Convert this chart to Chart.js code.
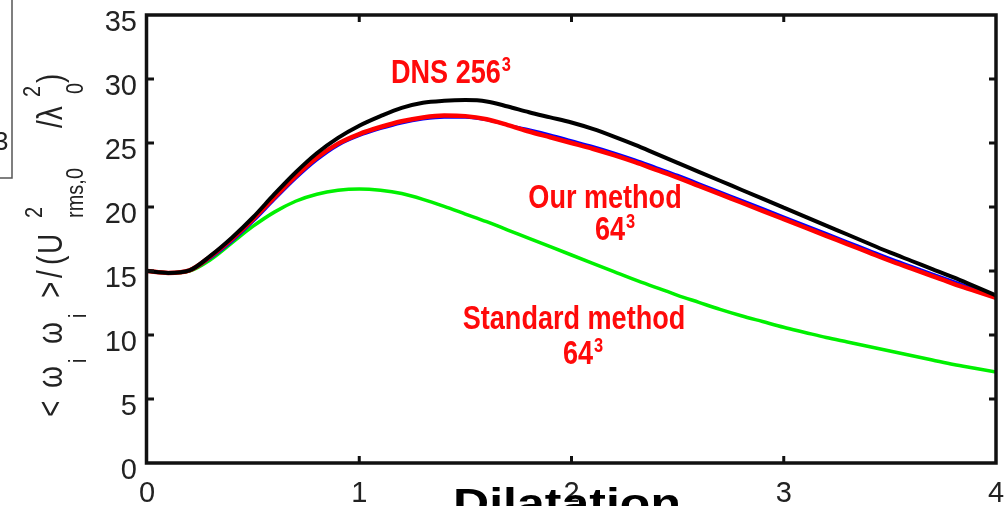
<!DOCTYPE html>
<html><head><meta charset="utf-8">
<script src="https://cdn.jsdelivr.net/npm/chart.js@4"></script>
<style>html,body{margin:0;padding:0;background:#fff;overflow:hidden}canvas{display:block}</style>
</head><body>
<canvas id="c" width="1005" height="506"></canvas>
<script>
// ---- data ----
const xValues = [0,0.1,0.2,0.3,0.4,0.5,0.6,0.7,0.8,0.9,1.0,
  1.1,1.2,1.3,1.4,1.5,1.6,1.7,1.8,1.9,2.0,
  2.1,2.2,2.3,2.4,2.5,2.6,2.7,2.8,2.9,3.0,
  3.1,3.2,3.3,3.4,3.5,3.6,3.7,3.8,3.9,4.0];
const dns256 = [15.0,14.85,15.05,16.2,17.6,19.2,21.0,22.7,24.2,25.4,26.35,
  27.1,27.75,28.15,28.3,28.35,28.25,27.85,27.4,27.0,26.6,
  26.1,25.5,24.85,24.15,23.45,22.75,22.05,21.35,20.65,19.95,
  19.25,18.55,17.85,17.15,16.45,15.8,15.15,14.5,13.8,13.1];
const ourMethod64 = [15.0,14.85,15.05,16.15,17.5,19.05,20.75,22.4,23.85,24.95,25.7,
  26.25,26.7,27.0,27.15,27.1,26.85,26.4,25.9,25.45,25.0,
  24.55,24.05,23.5,22.9,22.3,21.65,21.0,20.35,19.7,19.05,
  18.4,17.75,17.1,16.45,15.8,15.2,14.6,14.0,13.45,12.9];
const ourMethod64b = [15.0,14.85,15.0,16.0,17.3,18.85,20.55,22.2,23.65,24.8,25.55,
  26.1,26.55,26.85,27.0,27.0,26.8,26.4,26.05,25.65,25.2,
  24.75,24.25,23.7,23.1,22.5,21.85,21.2,20.55,19.9,19.25,
  18.6,17.95,17.3,16.65,16.0,15.4,14.8,14.2,13.6,13.0];
const standard64 = [15.0,14.85,15.0,15.9,17.2,18.5,19.6,20.45,21.0,21.3,21.4,
  21.3,21.05,20.6,20.05,19.45,18.85,18.2,17.55,16.9,16.25,
  15.6,14.95,14.3,13.7,13.1,12.55,12.0,11.5,11.05,10.6,
  10.2,9.8,9.45,9.1,8.75,8.4,8.05,7.7,7.4,7.1];
const xTicks = [0,1,2,3,4];
const yTicks = [0,5,10,15,20,25,30,35];
const xTitle = 'Dilatation';

function pts(arr){ return xValues.map((x,i)=>({x:x, y:arr[i]})); }

function hasFont(name){
  const c=document.createElement('canvas').getContext('2d');
  c.font='40px monospace'; const a=c.measureText('mmmwwwiiilllABC').width;
  c.font='40px "'+name+'", monospace'; const b=c.measureText('mmmwwwiiilllABC').width;
  return a!==b;
}
const narrowOK = hasFont('Liberation Sans Narrow');
const redFam = narrowOK ? '"Liberation Sans Narrow"' : '"Liberation Sans"';
const redScale = narrowOK ? 1 : 0.82;

function drawSupLabel(ctx, main, sup, cx, baseY, size){
  ctx.save();
  ctx.fillStyle = '#ff0a0a';
  ctx.font = 'bold '+size+'px '+redFam;
  const w1 = ctx.measureText(main).width*redScale;
  let w2 = 0;
  const supSize = Math.round(size*0.62);
  if (sup){ ctx.font = 'bold '+supSize+'px '+redFam; w2 = ctx.measureText(sup).width*redScale + 1; }
  const left = cx - (w1+w2)/2;
  ctx.textBaseline = 'alphabetic'; ctx.textAlign = 'left';
  ctx.save(); ctx.translate(left, baseY); ctx.scale(redScale,1);
  ctx.font = 'bold '+size+'px '+redFam; ctx.fillText(main,0,0); ctx.restore();
  if (sup){
    ctx.save(); ctx.translate(left+w1+1, baseY - size*0.36); ctx.scale(redScale,1);
    ctx.font = 'bold '+supSize+'px '+redFam; ctx.fillText(sup,0,0); ctx.restore();
  }
  ctx.restore();
}

function zeroPad(s){ s.paddingTop=0; s.paddingBottom=0; s.paddingLeft=0; s.paddingRight=0; }

const framePlugin = {
  id:'frame',
  afterDatasetsDraw(chart){
    const ctx = chart.ctx, a = chart.chartArea;
    const xs = chart.scales.x, ys = chart.scales.y;
    ctx.save();
    ctx.strokeStyle = '#111'; ctx.lineWidth = 3.5;
    ctx.strokeRect(a.left-0.5, a.top, a.right-a.left+0.5, a.bottom-a.top);
    ctx.lineWidth = 3;
    const tl = 7;
    yTicks.forEach(v=>{
      if (v===0||v===35) return;
      const y = ys.getPixelForValue(v);
      ctx.beginPath(); ctx.moveTo(a.left, y); ctx.lineTo(a.left+tl, y);
      ctx.moveTo(a.right, y); ctx.lineTo(a.right-tl, y); ctx.stroke();
    });
    xTicks.forEach(v=>{
      if (v===0||v===4) return;
      const x = xs.getPixelForValue(v);
      ctx.beginPath(); ctx.moveTo(x, a.bottom); ctx.lineTo(x, a.bottom-tl);
      ctx.moveTo(x, a.top); ctx.lineTo(x, a.top+tl); ctx.stroke();
    });
    ctx.restore();
  },
  afterDraw(chart){
    const ctx = chart.ctx;
    // red annotations
    drawSupLabel(ctx, 'DNS 256', '3', 451, 83, 33);
    drawSupLabel(ctx, 'Our method', '', 605, 208, 33);
    drawSupLabel(ctx, '64', '3', 615, 240, 33);
    drawSupLabel(ctx, 'Standard method', '', 574, 329, 33);
    drawSupLabel(ctx, '64', '3', 583, 364, 33);

    // rotated y-axis title (MATLAB tex style)
    const pieces = [
      ['<',417,62,28],['\u03c9',388,62,28],['i',363,86,20],['\u03c9',344,62,28],['i',318,86,20],
      ['>',298,62,28],['/',278,62,28],['(',265,62,28],['U',254,62,28],['2',218,42,20],
      ['rms,0',218,83,20],['/\u03bb',128,62,28],['2',97,40,20],['0',94,83,20],[')',83,62,28]
    ];
    ctx.save();
    ctx.fillStyle = '#222'; ctx.textAlign='left'; ctx.textBaseline='alphabetic';
    pieces.forEach(p=>{
      ctx.save();
      ctx.translate(p[2], p[1]);
      ctx.rotate(-Math.PI/2);
      ctx.scale(1,1.22);
      ctx.font = p[3]+'px "Liberation Sans", Arial, sans-serif';
      ctx.fillText(p[0],0,0);
      ctx.restore();
    });
    ctx.restore();

    // x title (cut at bottom edge)
    ctx.save();
    ctx.fillStyle = '#000'; ctx.textAlign='center'; ctx.textBaseline='alphabetic';
    ctx.translate(567, 517); ctx.scale(1.22,1);
    ctx.font = 'bold 41px "Liberation Sans", Arial, sans-serif';
    ctx.fillText(xTitle, 0, 0);
    ctx.restore();

    // remnant of neighbouring panel at the left edge
    ctx.save();
    ctx.strokeStyle = '#555'; ctx.lineWidth = 1.5;
    ctx.beginPath(); ctx.moveTo(12,0); ctx.lineTo(12,178); ctx.lineTo(0,178); ctx.stroke();
    ctx.fillStyle = '#222'; ctx.font = '26px "Liberation Sans", Arial, sans-serif';
    ctx.textBaseline='alphabetic'; ctx.textAlign='left';
    ctx.fillText('3', -6, 150);
    ctx.restore();
  }
};

const bg = { id:'bg', beforeDraw(chart){ const c=chart.ctx; c.save(); c.fillStyle='#fff'; c.fillRect(0,0,chart.width,chart.height); c.restore(); } };

new Chart(document.getElementById('c'), {
  type:'line',
  data:{ datasets:[
    {label:'DNS 256^3', data:pts(dns256), borderColor:'#000', borderWidth:4, order:0},
    {label:'Our method 64^3', data:pts(ourMethod64), borderColor:'#ff0000', borderWidth:4.5, order:1},
    {label:'Our method 64^3 (b)', data:pts(ourMethod64b), borderColor:'#0000ff', borderWidth:2.5, order:2},
    {label:'Standard method 64^3', data:pts(standard64), borderColor:'#00f000', borderWidth:3.5, order:3}
  ]},
  options:{
    responsive:false, animation:false, devicePixelRatio:1,
    layout:{padding:{left:0, right:9, top:15, bottom:0}},
    elements:{ point:{radius:0}, line:{cubicInterpolationMode:'monotone', fill:false} },
    plugins:{ legend:{display:false}, tooltip:{enabled:false} },
    scales:{
      x:{ type:'linear', min:0, max:4,
        afterBuildTicks:s=>{ s.ticks = xTicks.map(v=>({value:v})); },
        afterFit:s=>{ s.height = 43; zeroPad(s); },
        grid:{display:false, drawTicks:false}, border:{display:false},
        ticks:{ font:{family:'"Liberation Sans", Arial, sans-serif', size:29}, color:'#222', padding:14, maxRotation:0, autoSkip:false }
      },
      y:{ type:'linear', min:0, max:35,
        afterBuildTicks:s=>{ s.ticks = yTicks.map(v=>({value:v})); },
        afterFit:s=>{ s.width = 147; zeroPad(s); },
        grid:{display:false, drawTicks:false}, border:{display:false},
        ticks:{ font:{family:'"Liberation Sans", Arial, sans-serif', size:29}, color:'#222', padding:10, labelOffset:8, autoSkip:false }
      }
    }
  },
  plugins:[bg, framePlugin]
});
</script>
</body></html>
